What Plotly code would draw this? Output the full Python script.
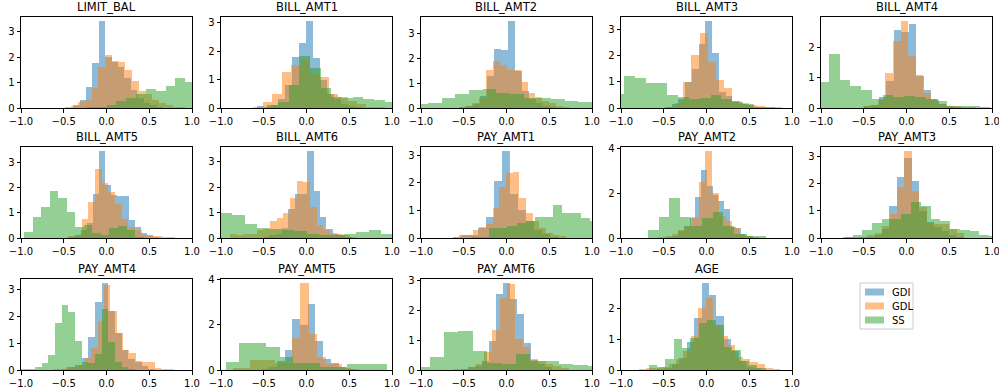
import plotly.graph_objects as go
from plotly.subplots import make_subplots

features = ["LIMIT_BAL", "BILL_AMT1", "BILL_AMT2", "BILL_AMT3", "BILL_AMT4",
            "BILL_AMT5", "BILL_AMT6", "PAY_AMT1", "PAY_AMT2", "PAY_AMT3",
            "PAY_AMT4", "PAY_AMT5", "PAY_AMT6", "AGE"]
series_names = ["GDI", "GDL", "SS"]

# histogram bins: first left edge, bin width, densities
gdi_start = [-0.39, -0.58, -0.555, -0.488, -0.502, -0.434, -0.508, -0.621, -0.531, -0.547, -0.523, -0.525, -0.531, -0.58]
gdi_width = [0.075, 0.082, 0.082, 0.079, 0.088, 0.07, 0.074, 0.094, 0.067, 0.087, 0.078, 0.09, 0.082, 0.087]
gdi_heights = [
    [0.1, 0.3, 0.82, 1.78, 3.42, 2.0, 1.8, 1.6, 1.2, 0.7, 0.4, 0.2, 0.1, 0.05],
    [0.07, 0.05, 0.1, 0.3, 0.8, 1.8, 2.3, 3.05, 1.75, 1.0, 0.5, 0.3, 0.15, 0.08, 0.04],
    [0.05, 0.1, 0.15, 0.5, 1.3, 2.4, 2.35, 3.5, 1.5, 0.7, 0.35, 0.2, 0.1, 0.05],
    [0.05, 0.15, 0.35, 1.0, 1.5, 2.45, 3.3, 2.1, 0.6, 0.45, 0.25, 0.15, 0.1, 0.05],
    [0.05, 0.1, 0.35, 0.9, 2.55, 2.5, 2.75, 1.05, 0.6, 0.25, 0.12, 0.05, 0.02],
    [0.05, 0.1, 0.3, 0.6, 1.74, 3.45, 2.1, 1.7, 1.66, 1.66, 0.7, 0.45, 0.2, 0.1, 0.05],
    [0.05, 0.1, 0.15, 0.4, 1.15, 1.72, 1.72, 3.4, 1.85, 0.83, 0.35, 0.15, 0.1, 0.05],
    [0.05, 0.1, 0.1, 0.35, 0.75, 2.08, 3.15, 1.6, 1.0, 0.6, 0.3, 0.15, 0.05],
    [0.02, 0.05, 0.1, 0.3, 0.55, 0.9, 1.84, 3.05, 2.3, 1.93, 1.64, 1.29, 0.5, 0.45, 0.2, 0.1],
    [0.02, 0.05, 0.1, 0.35, 1.17, 2.26, 2.95, 2.09, 1.0, 0.6, 0.4, 0.25, 0.1, 0.05],
    [0.05, 0.1, 0.2, 0.45, 1.23, 2.54, 3.24, 2.2, 1.38, 0.75, 0.4, 0.3, 0.15, 0.05],
    [0.05, 0.15, 0.4, 0.88, 2.24, 2.0, 2.9, 1.26, 0.5, 0.3, 0.15, 0.05],
    [0.05, 0.1, 0.15, 0.3, 0.99, 2.57, 2.92, 2.4, 1.88, 0.91, 0.35, 0.2, 0.1],
    [0.02, 0.05, 0.2, 0.4, 0.9, 1.67, 2.8, 2.41, 1.76, 1.0, 0.6, 0.3, 0.1, 0.05],
]

gdl_start = [-0.49, -0.62, -0.565, -0.465, -0.51, -0.523, -0.895, -0.551, -0.567, -0.72, -0.621, -0.855, -0.621, -0.792]
gdl_width = [0.079, 0.11, 0.082, 0.096, 0.088, 0.078, 0.078, 0.078, 0.079, 0.087, 0.074, 0.098, 0.09, 0.087]
gdl_heights = [
    [0.02, 0.08, 0.22, 0.3, 0.8, 1.6, 2.08, 1.87, 1.8, 1.5, 1.08, 0.68, 0.55, 0.3, 0.2, 0.1, 0.05, 0.02],
    [0.05, 0.2, 0.5, 1.25, 1.5, 1.72, 1.2, 1.1, 0.5, 0.4, 0.25, 0.15, 0.05, 0.02],
    [0.02, 0.08, 0.2, 0.4, 1.52, 1.88, 1.72, 1.55, 1.55, 1.05, 0.6, 0.45, 0.3, 0.2, 0.1, 0.05],
    [0.05, 0.2, 1.0, 2.0, 2.85, 1.75, 1.07, 0.75, 0.25, 0.2, 0.1, 0.07, 0.04, 0.02],
    [0.05, 0.1, 0.25, 1.15, 2.2, 2.85, 1.72, 1.1, 0.5, 0.3, 0.12, 0.08, 0.05, 0.03, 0.02],
    [0.02, 0.08, 0.1, 0.75, 1.44, 2.73, 2.2, 1.85, 1.35, 0.75, 0.45, 0.3, 0.12, 0.08, 0.06, 0.03, 0.05],
    [0.15, 0.1, 0.15, 0.15, 0.3, 0.35, 0.65, 0.8, 1.0, 1.55, 2.25, 2.2, 1.2, 0.5, 0.3, 0.2, 0.15, 0.1, 0.05],
    [0.1, 0.1, 0.3, 0.4, 0.5, 1.1, 1.85, 2.35, 2.4, 1.45, 0.9, 0.6, 0.35, 0.2, 0.12, 0.08],
    [0.05, 0.1, 0.2, 0.35, 0.55, 0.95, 2.5, 3.87, 2.03, 1.0, 0.75, 0.45, 0.2, 0.1, 0.05],
    [0.05, 0.02, 0.05, 0.1, 0.2, 0.45, 0.9, 1.9, 3.2, 1.75, 1.15, 0.55, 0.5, 0.5, 0.35, 0.2],
    [0.05, 0.05, 0.1, 0.1, 0.2, 0.45, 0.82, 1.82, 3.16, 2.22, 1.4, 0.75, 0.62, 0.35, 0.3, 0.3, 0.08, 0.05, 0.05],
    [0.1, 0.1, 0.45, 0.45, 0.45, 0.3, 0.3, 1.4, 3.81, 1.59, 0.55, 0.25, 0.25, 0.1, 0.05],
    [0.05, 0.05, 0.1, 0.2, 0.6, 1.34, 2.44, 2.89, 1.05, 0.78, 0.38, 0.3, 0.2, 0.15, 0.08],
    [0.02, 0.05, 0.05, 0.1, 0.2, 0.35, 0.6, 1.1, 2.0, 2.34, 1.45, 1.1, 0.8, 0.42, 0.35, 0.25, 0.18, 0.05, 0.03],
]

ss_start = [-0.23, -0.46, -1.078, -1.087, -1.035, -0.965, -1.012, -0.418, -0.685, -0.744, -1.07, -0.941, -1.066, -0.678]
ss_width = [0.115, 0.125, 0.16, 0.126, 0.126, 0.1, 0.145, 0.107, 0.126, 0.114, 0.078, 0.157, 0.168, 0.098]
ss_heights = [
    [0.02, 0.05, 0.1, 0.28, 0.38, 0.55, 0.75, 0.68, 0.85, 1.18, 1.02, 0.9],
    [0.1, 0.2, 0.82, 1.82, 1.42, 0.72, 0.4, 0.35, 0.38, 0.3, 0.27, 0.22],
    [0.17, 0.2, 0.4, 0.55, 0.72, 0.75, 0.6, 0.55, 0.4, 0.4, 0.35, 0.3, 0.25],
    [0.55, 1.2, 1.15, 0.95, 0.95, 0.5, 0.4, 0.35, 0.38, 0.48, 0.35, 0.22, 0.15, 0.03, 0.02, 0.01],
    [0.85, 1.78, 0.92, 0.72, 0.6, 0.3, 0.42, 0.35, 0.38, 0.35, 0.28, 0.22, 0.08, 0.05, 0.05, 0.02],
    [0.22, 0.82, 1.22, 1.87, 1.58, 1.02, 0.45, 0.53, 0.18, 0.1, 0.38, 0.48, 0.3, 0.05],
    [0.97, 0.9, 0.55, 0.38, 0.35, 0.3, 0.28, 0.15, 0.12, 0.1, 0.15, 0.22, 0.32, 0.15],
    [0.02, 0.05, 0.35, 0.35, 0.42, 0.55, 0.6, 0.78, 0.78, 1.2, 0.92, 0.92, 0.72, 0.6],
    [0.35, 0.95, 1.78, 0.95, 0.55, 0.9, 1.15, 0.55, 0.2, 0.1, 0.1],
    [0.05, 0.1, 0.3, 0.55, 0.7, 0.7, 0.88, 1.34, 1.2, 0.7, 0.62, 0.35, 0.3, 0.25, 0.1, 0.08],
    [0.05, 0.05, 0.05, 0.1, 0.25, 0.57, 1.76, 2.43, 2.17, 1.08, 0.3, 0.25, 0.6, 2.28, 1.05, 0.3, 0.1, 0.05],
    [0.35, 1.19, 1.2, 1.01, 0.57, 0.3, 0.3, 0.15, 0.12, 0.26, 0.26, 0.26],
    [0.1, 0.45, 1.28, 1.31, 0.63, 0.25, 0.2, 0.55, 0.3, 0.29, 0.2, 0.18, 0.12],
    [0.15, 0.1, 0.35, 1.01, 0.7, 1.05, 1.53, 1.6, 1.44, 0.75, 0.66, 0.3, 0.15, 0.05],
]

x_ticks = [-1.0, -0.5, 0.0, 0.5, 1.0]

colors = ["#1f77b4", "#ff7f0e", "#2ca02c"]
W, H = 999, 391
col_left = [21, 221, 421, 621, 821]
row_top = [17, 147, 279]
ax_w, ax_h = 171, 91
FONT = "DejaVu Sans"


def px_x(p):
    return p / W


def px_y(p):
    return 1 - p / H


fig = make_subplots(rows=3, cols=5)

series = [(gdi_start, gdi_width, gdi_heights),
          (gdl_start, gdl_width, gdl_heights),
          (ss_start, ss_width, ss_heights)]

axis_style = dict(showline=True, linecolor="black", linewidth=1, mirror=True,
                  ticks="outside", ticklen=3.5, tickwidth=1, tickcolor="black",
                  showgrid=False, zeroline=False, automargin=False,
                  ticklabeloverflow="allow",
                  tickfont=dict(size=10, color="black", family=FONT))

annotations = []
shapes = []
for i, feat in enumerate(features):
    r, c = i // 5, i % 5
    ymax = 0
    for s, (starts, widths, heights) in enumerate(series):
        w = widths[i]
        h = heights[i]
        centers = [starts[i] + w * (k + 0.5) for k in range(len(h))]
        ymax = max(ymax, max(h))
        fig.add_trace(go.Bar(
            x=centers, y=h, width=w, name=series_names[s],
            marker=dict(color=colors[s], line=dict(width=0)),
            opacity=0.5, showlegend=False, hoverinfo="skip",
        ), row=r + 1, col=c + 1)
    top = ymax * 1.05
    x0, x1 = px_x(col_left[c]), px_x(col_left[c] + ax_w)
    y1, y0 = px_y(row_top[r]), px_y(row_top[r] + ax_h)
    axn = i + 1
    xk = "xaxis" if axn == 1 else f"xaxis{axn}"
    yk = "yaxis" if axn == 1 else f"yaxis{axn}"
    fig.layout[xk].update(domain=[x0, x1], range=[-1, 1], tickvals=x_ticks,
                          tickformat=".1f", **axis_style)
    fig.layout[yk].update(domain=[y0, y1], range=[0, top],
                          dtick=2 if top > 3.8 else 1, tick0=0, **axis_style)
    annotations.append(dict(text=feat, x=(x0 + x1) / 2, y=y1, xref="paper", yref="paper",
                            xanchor="center", yanchor="bottom", yshift=1, showarrow=False,
                            font=dict(size=11.5, color="black", family=FONT)))

# hide the unused 15th axes
fig.layout["xaxis15"].update(visible=False, automargin=False,
                             domain=[px_x(col_left[4]), px_x(col_left[4] + ax_w)])
fig.layout["yaxis15"].update(visible=False, automargin=False,
                             domain=[px_y(row_top[2] + ax_h), px_y(row_top[2])])

# legend drawn as a box with patches and labels
leg_box = (860, 283, 913, 329)
shapes.append(dict(type="rect", xref="paper", yref="paper",
                   x0=px_x(leg_box[0]), x1=px_x(leg_box[2]),
                   y0=px_y(leg_box[3]), y1=px_y(leg_box[1]),
                   line=dict(color="#cccccc", width=1), fillcolor="white"))
for s, name in enumerate(series_names):
    cy = 292 + 14 * s
    shapes.append(dict(type="rect", xref="paper", yref="paper",
                       x0=px_x(865), x1=px_x(884), y0=px_y(cy + 3.5), y1=px_y(cy - 3.5),
                       line=dict(width=0), fillcolor=colors[s], opacity=0.5))
    annotations.append(dict(text=name, x=px_x(890), y=px_y(cy), xref="paper", yref="paper",
                            xanchor="left", yanchor="middle", showarrow=False,
                            font=dict(size=10, color="black", family=FONT)))

fig.update_layout(
    width=W, height=H, margin=dict(l=0, r=0, t=0, b=0),
    paper_bgcolor="white", plot_bgcolor="white",
    barmode="overlay", bargap=0, showlegend=False, hovermode=False,
    font=dict(family=FONT, size=10, color="black"),
    annotations=annotations, shapes=shapes,
)

fig.write_html("out.html", config={"displayModeBar": False, "staticPlot": True},
               post_script="document.body.style.margin='0';document.body.style.padding='0';")
